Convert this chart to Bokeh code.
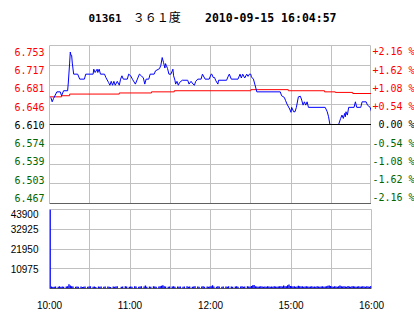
from bokeh.plotting import figure
from bokeh.layouts import column, row
from bokeh.models import Range1d, FixedTicker, Grid, Span, PrintfTickFormatter
from bokeh.core.properties import value
from bokeh.embed import file_html
from bokeh.resources import INLINE

# ---------------- data ----------------
stock_code = "01361"
stock_name = "３６１度"
stamp = "2010-09-15 16:04:57"
prev_close = 6.610
max_pct = 2.16
time_ticks = [0, 60, 120, 180, 240]
time_labels = ["10:00", "11:00", "12:00", "15:00", "16:00"]
grid_minutes = [0, 30, 60, 90, 120, 150, 180, 210, 240]

price_minutes = [1, 2, 3, 5.5, 8, 9, 10.5, 13.5, 14, 15, 15.5, 16, 16.5, 17, 18, 21, 22.5, 26, 27,
                 32.5, 33, 34, 35.5, 36, 37, 38, 41, 42, 44, 45, 46, 47, 48, 49, 50.5, 52, 53, 54,
                 55, 58, 59, 60.5, 62, 63, 64, 65.5, 67, 68.5, 70, 71, 72, 74, 75, 78, 79, 82, 83,
                 84, 85, 86, 86.5, 87, 88, 89, 90.5, 92, 92.5, 93.5, 94, 95, 96, 97, 99, 103, 104,
                 105.5, 107, 108, 109, 110.5, 113, 114, 116, 119, 120.5, 121, 122, 123, 124, 125.5,
                 126, 132, 133, 134, 135.5, 140.5, 142, 143, 144, 145.5, 147, 148, 149, 150, 150.5,
                 152, 153, 154, 154.5, 172, 173, 175, 176, 177, 179, 180, 180.5, 182, 183, 184,
                 185.5, 187, 188, 189, 190, 191, 192, 193, 205.5, 207, 208, 209, 215.5, 217, 218,
                 219, 220, 220.5, 221, 222, 223, 227, 228, 229, 232, 233, 236, 237, 239, 240]
prices = [6.659, 6.651, 6.657, 6.669, 6.669, 6.662, 6.671, 6.671, 6.685, 6.721, 6.741, 6.735, 6.735,
          6.721, 6.701, 6.701, 6.692, 6.692, 6.701, 6.701, 6.710, 6.704, 6.710, 6.704, 6.710, 6.701,
          6.701, 6.695, 6.686, 6.681, 6.688, 6.681, 6.688, 6.681, 6.688, 6.681, 6.692, 6.698, 6.692,
          6.692, 6.701, 6.698, 6.691, 6.687, 6.683, 6.692, 6.701, 6.698, 6.694, 6.683, 6.692, 6.692,
          6.701, 6.701, 6.707, 6.711, 6.717, 6.731, 6.722, 6.712, 6.720, 6.717, 6.711, 6.701, 6.701,
          6.710, 6.698, 6.690, 6.683, 6.688, 6.681, 6.686, 6.690, 6.690, 6.683, 6.688, 6.683, 6.681,
          6.688, 6.692, 6.692, 6.701, 6.692, 6.692, 6.701, 6.701, 6.695, 6.695, 6.689, 6.683, 6.690,
          6.690, 6.696, 6.701, 6.692, 6.692, 6.701, 6.694, 6.701, 6.694, 6.701, 6.697, 6.701, 6.701,
          6.696, 6.692, 6.683, 6.674, 6.669, 6.669, 6.662, 6.659, 6.653, 6.647, 6.638, 6.632, 6.641,
          6.633, 6.633, 6.641, 6.660, 6.661, 6.654, 6.645, 6.651, 6.645, 6.651, 6.641, 6.641, 6.633,
          6.624, 6.610, 6.610, 6.621, 6.627, 6.621, 6.630, 6.624, 6.633, 6.627, 6.641, 6.641, 6.651,
          6.641, 6.641, 6.651, 6.651, 6.645, 6.641, 6.633]

avg_minutes = [0, 9, 15, 52, 76, 93, 150, 178, 205, 213, 226, 240]
avg_prices = [6.660, 6.662, 6.665, 6.667, 6.669, 6.671, 6.673, 6.671, 6.669, 6.668, 6.666, 6.666]

vol_ticks = [10975, 21950, 32925, 43900]
volumes = [
    43900, 1100, 900, 1000, 1100, 0, 1000, 1200, 900, 1100, 1000, 0, 1100, 1200, 2400, 1600, 1200, 1100, 0, 1000,
    1100, 1000, 0, 1100, 900, 1000, 1100, 0, 1000, 1100, 1200, 0, 1000, 1100, 900, 0, 1100, 1000, 1100, 0,
    1000, 1100, 0, 1100, 1000, 900, 0, 1100, 1000, 1100, 1200, 0, 0, 1000, 1100, 0, 1300, 1100, 0, 1000,
    1100, 1000, 0, 1200, 1100, 0, 1000, 1100, 1200, 0, 1100, 1600, 1000, 0, 1100, 1000, 0, 1300, 1100, 1000,
    0, 1100, 1200, 1500, 1800, 1300, 1100, 0, 1000, 1100, 0, 1100, 1200, 1000, 0, 1100, 1000, 1100, 0, 1000,
    1100, 0, 1200, 1000, 1100, 0, 1000, 1100, 1200, 0, 1100, 1000, 0, 1100, 1200, 1000, 0, 1100, 1000, 1100,
    1200, 1800, 1100, 0, 1000, 1300, 1100, 0, 1000, 1100, 0, 1100, 1000, 1200, 0, 1100, 1000, 0, 1100, 1200,
    1000, 0, 1100, 1300, 1000, 1100, 0, 1200, 1100, 1000, 1400, 1800, 2000, 1300, 1100, 1000, 1100, 1200, 1100, 1000,
    1100, 1000, 1200, 1100, 1000, 1100, 1000, 1200, 1100, 1000, 1100, 1200, 1300, 1100, 1600, 1300, 1200, 1800, 2200, 1400,
    1300, 1100, 1200, 1000, 1100, 1500, 1300, 1100, 1200, 1000, 1100, 1200, 1100, 1000, 1100, 1200, 1000, 1100, 1000, 1200,
    1100, 1000, 1100, 1200, 1000, 1100, 1300, 1500, 1700, 1400, 1100, 1000, 1200, 1100, 1000, 1300, 1600, 1200, 1100, 1300,
    1100, 1000, 1400, 1100, 1000, 1200, 1300, 1100, 1000, 1100, 1200, 1000, 1100, 1300, 1100, 1000, 1200, 1100, 1000, 1400,
]

# ---------------- style ----------------
GRID = "#c0c0c0"
UP = "#ff0000"
DOWN = "#006600"
MONO = "DejaVu Sans Mono"
SANS = "Liberation Sans"


def bare(fig):
    fig.outline_line_color = None
    for g in fig.grid:
        g.visible = False


# ---------------- header ----------------
hdr = figure(width=414, height=38, x_range=Range1d(0, 414), y_range=Range1d(38, 0),
             toolbar_location=None, output_backend="svg",
             x_axis_location=None, y_axis_location=None, min_border=0)
bare(hdr)
hdr.text(x=[50], y=[17], text=[stock_code], text_font=value(MONO), text_font_style="bold",
         text_font_size="11px", text_baseline="middle", text_color="black")
hdr.text(x=[107], y=[16], text=[stock_name], text_font=value("Noto Sans CJK SC"),
         text_font_size="12px", text_baseline="middle", text_color="black")
hdr.text(x=[369], y=[17], text=[stamp], text_font=value(MONO), text_font_style="bold",
         text_font_size="11.5px", text_baseline="middle", text_align="right", text_color="black")

# ---------------- price panel ----------------
step = prev_close * max_pct / 100 / 4
levels = [prev_close + k * step for k in range(-4, 5)]
pcts = [k * max_pct / 4 for k in range(-4, 5)]
colors = [UP if c > 0 else (DOWN if c < 0 else "black") for c in pcts]
left_text = [f"{lvl:.3f}" for lvl in levels]
right_text = [("+" if c > 0 else ("-" if c < 0 else "\u00a0")) + f"{abs(c):.2f} %" for c in pcts]

PF_H, PF_TOP, PF_BOT = 171, 7, 6
p = figure(width=322, height=PF_H, x_range=Range1d(0, 240),
           y_range=Range1d(levels[0], levels[-1]),
           toolbar_location=None, output_backend="svg",
           x_axis_location=None, y_axis_location=None,
           min_border_left=0, min_border_right=0, min_border_top=PF_TOP, min_border_bottom=PF_BOT)
for g in p.grid:
    g.visible = False
p.outline_line_color = GRID
p.add_layout(Grid(dimension=0, ticker=FixedTicker(ticks=grid_minutes), grid_line_color=GRID))
p.add_layout(Grid(dimension=1, ticker=FixedTicker(ticks=levels), grid_line_color=GRID))
p.add_layout(Span(location=prev_close, dimension="width", line_color="black", line_width=1))
p.add_layout(Span(location=levels[0], dimension="width", line_color="black", line_width=1))

p.step(avg_minutes, avg_prices, mode="after", line_color="#ff0000", line_width=1)
p.line(price_minutes, prices, line_color="#0000ff", line_width=1)

# label strips sharing the price scale (frame extended to the full strip height)
frame_h = PF_H - PF_TOP - PF_BOT
dpp = (levels[-1] - levels[0]) / frame_h
strip_y = Range1d(levels[0] - PF_BOT * dpp, levels[-1] + PF_TOP * dpp)

lab_l = figure(width=49, height=PF_H, x_range=Range1d(0, 49), y_range=strip_y,
               toolbar_location=None, output_backend="svg",
               x_axis_location=None, y_axis_location=None, min_border=0)
bare(lab_l)
lab_l.text(x=[44] * len(levels), y=levels, text=left_text, text_color=colors,
           text_align="right", text_baseline="middle", text_font=value(MONO),
           text_font_size="10px")

lab_r = figure(width=43, height=PF_H, x_range=Range1d(0, 43), y_range=strip_y,
               toolbar_location=None, output_backend="svg",
               x_axis_location=None, y_axis_location=None, min_border=0)
bare(lab_r)
lab_r.text(x=[1] * len(levels), y=levels, text=right_text, text_color=colors,
           text_align="left", text_baseline="middle", text_font=value(MONO),
           text_font_size="10px")

# ---------------- volume panel ----------------
v = figure(width=414, height=105, x_range=p.x_range, y_range=Range1d(0, vol_ticks[-1]),
           toolbar_location=None, output_backend="svg",
           min_border_left=49, min_border_right=43, min_border_top=0, min_border_bottom=26)
v.outline_line_color = GRID
v.xgrid.ticker = FixedTicker(ticks=grid_minutes)
v.ygrid.ticker = FixedTicker(ticks=vol_ticks)
v.grid.grid_line_color = GRID
v.add_layout(Span(location=0, dimension="width", line_color="black", line_width=1))
v.vbar(x=[m + 0.5 for m in range(len(volumes))], top=volumes, width=1.0,
       fill_color="#0000ff", line_color=None)

v.xaxis.ticker = FixedTicker(ticks=time_ticks)
v.xaxis.major_label_overrides = {t: s for t, s in zip(time_ticks, time_labels)}
v.yaxis.ticker = FixedTicker(ticks=vol_ticks)
v.yaxis.formatter = PrintfTickFormatter(format="%d")
for ax in (v.xaxis, v.yaxis):
    ax.axis_line_color = None
    ax.major_tick_line_color = None
    ax.minor_tick_line_color = None
    ax.major_label_text_font = SANS
    ax.major_label_text_font_size = "10px"
    ax.major_label_text_color = "black"
    ax.major_label_standoff = 5

layout = column(hdr, row(lab_l, p, lab_r, spacing=0), v, spacing=0)
open("out.html", "w").write(file_html(layout, INLINE))
